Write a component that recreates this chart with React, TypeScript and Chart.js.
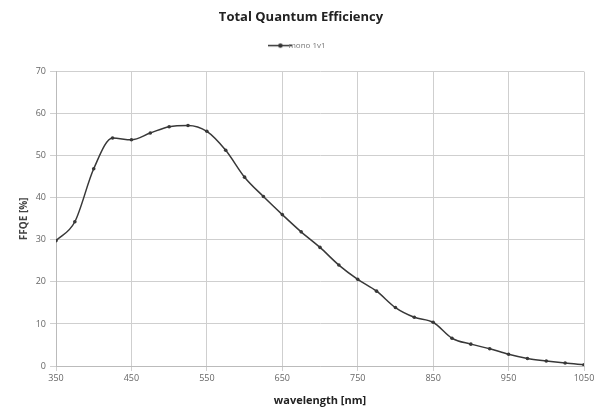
import React, { useEffect, useRef } from "react";
import { Chart, registerables } from "chart.js";

Chart.register(...registerables);

const wavelengths = [350, 375, 400, 425, 450, 475, 500, 525, 550, 575, 600, 625, 650, 675, 700, 725, 750, 775, 800, 825, 850, 875, 900, 925, 950, 975, 1000, 1025, 1050];
const qe = [29.8, 34.3, 46.9, 54.2, 53.8, 55.4, 56.9, 57.2, 55.8, 51.3, 44.9, 40.3, 36.0, 31.9, 28.2, 24.0, 20.6, 17.8, 13.9, 11.6, 10.4, 6.6, 5.2, 4.1, 2.8, 1.8, 1.2, 0.7, 0.3];
const seriesName = "mono 1v1";
const titleText = "Total Quantum Efficiency";
const xTitle = "wavelength [nm]";
const yTitle = "FFQE [%]";

function makeLegendIcon(): HTMLCanvasElement {
  const c = document.createElement("canvas");
  c.width = 24;
  c.height = 7;
  const ctx = c.getContext("2d")!;
  ctx.strokeStyle = "#333";
  ctx.lineWidth = 1.5;
  ctx.beginPath();
  ctx.moveTo(0, 3.5);
  ctx.lineTo(24, 3.5);
  ctx.stroke();
  ctx.fillStyle = "#333";
  ctx.beginPath();
  ctx.arc(12, 3.5, 2.2, 0, Math.PI * 2);
  ctx.fill();
  return c;
}

const legendSpacer = {
  id: "legendSpacer",
  beforeInit(chart: any) {
    const orig = chart.legend.fit;
    chart.legend.fit = function fit() {
      orig.bind(chart.legend)();
      this.height += 12;
    };
  },
};

export default function App() {
  const ref = useRef<HTMLCanvasElement>(null);
  useEffect(() => {
    if (!ref.current) return;
    const icon = makeLegendIcon();
    const chart = new Chart(ref.current, {
      type: "line",
      data: {
        datasets: [
          {
            label: seriesName,
            data: wavelengths.map((w, i) => ({ x: w, y: qe[i] })),
            borderColor: "#383838",
            backgroundColor: "#383838",
            borderWidth: 1.5,
            pointRadius: 1.8,
            pointBackgroundColor: "#383838",
            pointBorderWidth: 0,
            cubicInterpolationMode: "monotone",
          } as any,
        ],
      },
      options: {
        animation: false,
        responsive: false,
        devicePixelRatio: 1,
        layout: { padding: { left: 18, right: 21, top: 0, bottom: 9 } },
        plugins: {
          title: {
            display: true,
            text: titleText,
            color: "#222",
            font: { family: "Open Sans", size: 13, weight: "bold" },
            padding: { top: 9, bottom: 7 },
          },
          legend: {
            display: true,
            labels: {
              usePointStyle: true,
              color: "#777",
              font: { family: "Open Sans", size: 8 },
              padding: 10,
              generateLabels: () => [
                {
                  text: seriesName,
                  pointStyle: icon as any,
                  fillStyle: "#333",
                  strokeStyle: "#333",
                  lineWidth: 0,
                  hidden: false,
                  datasetIndex: 0,
                  fontColor: "#777",
                } as any,
              ],
            },
          },
          tooltip: { enabled: false },
        },
        scales: {
          x: {
            type: "linear",
            min: 350,
            max: 1050,
            ticks: {
              stepSize: 100,
              color: "#666",
              font: { family: "Open Sans", size: 9 },
              padding: 2,
              callback: (v: any) => String(v),
            },
            grid: { color: "#cfcfcf", lineWidth: 1, tickLength: 5 },
            border: { color: "#bbb" },
            title: {
              display: true,
              text: xTitle,
              color: "#222",
              font: { family: "Open Sans", size: 11, weight: "bold" },
              padding: { top: 2, bottom: 0 },
            },
            afterFit: (s: any) => {
              s.height = 41;
            },
          },
          y: {
            type: "linear",
            min: 0,
            max: 70,
            ticks: {
              stepSize: 10,
              color: "#666",
              font: { family: "Open Sans", size: 9 },
              padding: 4,
              callback: (v: any) => String(v),
            },
            grid: { color: "#cfcfcf", lineWidth: 1, tickLength: 6 },
            border: { color: "#bbb" },
            title: {
              display: true,
              text: yTitle,
              color: "#444",
              font: { family: "Open Sans", size: 10, weight: "bold" },
              padding: { top: 0, bottom: 0 },
            },
            afterFit: (s: any) => {
              s.width = 38;
            },
          },
        },
      },
      plugins: [legendSpacer],
    });
    return () => chart.destroy();
  }, []);
  return (
    <div style={{ position: "fixed", left: 0, top: 0, width: 605, height: 416, background: "#fff" }}>
      <canvas ref={ref} width={605} height={416} style={{ width: 605, height: 416 }} />
    </div>
  );
}
